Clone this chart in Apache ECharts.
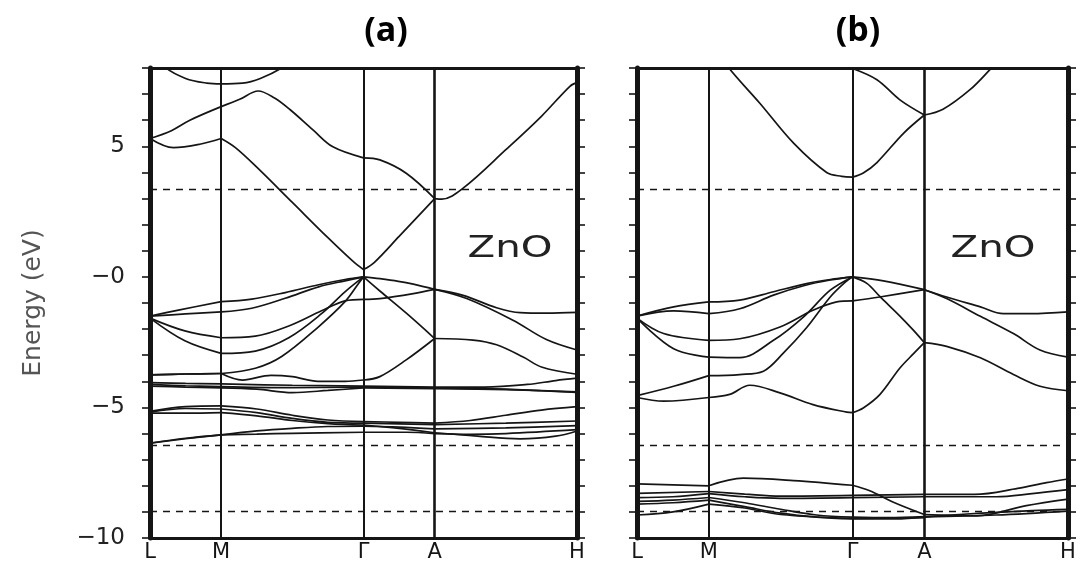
<!DOCTYPE html>
<html>
<head>
<meta charset="utf-8">
<title>ZnO band structure</title>
<script src="https://cdn.jsdelivr.net/npm/echarts@6/dist/echarts.min.js"></script>
<style>
  html, body { margin: 0; padding: 0; background: #fff; }
  #chart { width: 1086px; height: 564px; }
</style>
</head>
<body>
<div id="chart"></div>
<script>
// High-symmetry points along the k-path (x positions and their labels)
const kPoints = [0, 1, 3, 4, 6];
const kLabels = ['L', 'M', 'Γ', 'A', 'H'];

// Energy axis labels (eV)
const energyLabelValues = [-10, -5, 0, 5];
const energyLabelText = ['−10', '−5', '−0', '5'];

// Dashed reference levels (eV)
const dashedLevels = [3.37, -6.46, -8.98];

// ---- Panel (a): bands as [k, E] ----
const aC1 = [[0,5.3],[0.33,4.95],[0.7,5.08],[1,5.3],[1.2,4.95],[1.5,4.2],[2,2.85],[2.5,1.5],[2.85,0.6],[3,0.28],[3.15,0.55],[3.5,1.55],[4,3.0],[4.1,2.98],[4.4,3.4],[5,4.87],[5.5,6.15],[5.9,7.3],[6,7.45]];
const aC2 = [[0,5.3],[0.3,5.6],[0.56,6.0],[1,6.52],[1.26,6.8],[1.52,7.12],[1.75,6.85],[1.97,6.4],[2.29,5.63],[2.57,4.98],[3,4.56],[3.23,4.48],[3.6,3.97],[4,3.0]];
const aC3 = [[0,8.7],[0.2,8.05],[0.5,7.6],[0.8,7.42],[1,7.39],[1.3,7.42],[1.55,7.6],[1.87,8.03],[2.1,8.5]];
const aV1 = [[0,-1.5],[0.4,-1.27],[1,-0.95],[1.43,-0.85],[1.9,-0.6],[2.37,-0.3],[2.74,-0.1],[3,0],[3.23,-0.07],[3.49,-0.17],[3.7,-0.28],[4,-0.48],[4.4,-0.71],[4.87,-1.18],[5.2,-1.37],[5.57,-1.39],[6,-1.36]];
const aV2 = [[0,-1.5],[0.5,-1.42],[1,-1.34],[1.43,-1.2],[1.9,-0.82],[2.37,-0.38],[2.74,-0.15],[3,0],[3.23,-0.54],[3.61,-1.41],[4,-2.36],[4.54,-2.42],[4.87,-2.6],[5.25,-3.08],[5.5,-3.45],[6,-3.73]];
const aV3 = [[0,-1.58],[0.49,-2.07],[1,-2.33],[1.48,-2.27],[1.95,-1.88],[2.41,-1.3],[2.74,-0.92],[3,-0.86],[3.23,-0.83],[3.7,-0.64],[4,-0.48],[4.45,-0.83],[5.1,-1.66],[5.57,-2.4],[6,-2.8]];
const aV4 = [[0,-1.58],[0.49,-2.45],[1,-2.93],[1.48,-2.84],[1.95,-2.33],[2.41,-1.41],[2.74,-0.57],[3,0]];
const aV5 = [[0,-3.75],[0.5,-3.72],[1,-3.7],[1.48,-3.5],[1.85,-3.05],[2.36,-1.93],[2.74,-0.95],[2.93,-0.25],[3,0]];
const aV6 = [[0,-3.75],[0.5,-3.72],[1,-3.7],[1.3,-3.95],[1.7,-3.77],[2.0,-3.82],[2.36,-4.0],[2.74,-4.0],[3,-3.95],[3.23,-3.82],[3.6,-3.18],[4,-2.36]];
const aD1 = [[0,-4.05],[0.5,-4.08],[1,-4.1],[2,-4.15],[3,-4.18],[4,-4.22],[4.7,-4.22],[5.3,-4.12],[5.7,-3.97],[6,-3.88]];
const aD2 = [[0,-4.12],[0.5,-4.17],[1,-4.2],[2,-4.24],[3,-4.22],[4,-4.25],[5,-4.3],[5.5,-4.36],[6,-4.42]];
const aD3 = [[0,-4.18],[0.5,-4.22],[1,-4.25],[1.5,-4.3],[2,-4.43],[2.5,-4.35],[3,-4.25],[4,-4.28],[5,-4.32],[6,-4.4]];
const aD4 = [[0,-5.15],[0.5,-4.97],[1,-4.94],[1.5,-5.06],[2,-5.3],[2.5,-5.48],[3,-5.54],[3.5,-5.57],[4,-5.6],[4.5,-5.5],[5,-5.3],[5.5,-5.1],[6,-4.97]];
const aD5 = [[0,-5.18],[0.5,-5.04],[1,-5.06],[1.5,-5.2],[2,-5.42],[2.5,-5.57],[3,-5.6],[4,-5.66],[5,-5.6],[6,-5.52]];
const aD6 = [[0,-5.22],[0.5,-5.22],[1,-5.2],[1.5,-5.32],[2,-5.5],[2.5,-5.62],[3,-5.68],[3.5,-5.8],[4,-5.97],[4.6,-6.1],[5.2,-6.2],[5.7,-6.1],[6,-5.9]];
const aD7 = [[0,-6.37],[0.5,-6.18],[1,-6.05],[1.5,-5.9],[2,-5.8],[2.5,-5.73],[3,-5.72],[3.5,-5.75],[4,-5.82],[5,-5.78],[6,-5.7]];
const aD8 = [[0,-6.37],[0.5,-6.2],[1,-6.05],[1.5,-6.02],[2,-5.99],[3,-5.95],[3.6,-5.95],[4,-6.0],[4.5,-6.03],[5,-6.0],[6,-5.85]];

// ---- Panel (b): bands as [k, E] ----
const bC1 = [[1,9.1],[1.27,8.03],[1.71,6.65],[2.18,5.12],[2.64,4.0],[2.85,3.85],[3,3.82],[3.15,3.98],[3.34,4.38],[3.71,5.5],[4,6.2],[4.26,6.42],[4.64,7.18],[4.91,7.93],[5.1,8.5]];
const bC2 = [[2.6,8.45],[3,7.98],[3.34,7.55],[3.66,6.78],[4,6.2]];
const bV1 = [[0,-1.5],[0.51,-1.15],[1,-0.96],[1.43,-0.89],[1.9,-0.57],[2.36,-0.26],[2.69,-0.1],[3,0],[3.43,-0.15],[4,-0.49],[4.31,-0.77],[4.78,-1.15],[5.1,-1.41],[5.48,-1.41],[6,-1.34]];
const bV2 = [[0,-1.5],[0.51,-1.3],[1,-1.41],[1.43,-1.22],[1.9,-0.7],[2.32,-0.34],[2.69,-0.12],[3,0],[3.2,-0.25],[3.38,-0.75],[3.66,-1.5],[3.85,-2.05],[4,-2.52],[4.31,-2.66],[4.78,-3.1],[5.24,-3.74],[5.61,-4.19],[6,-4.36]];
const bV3 = [[0,-1.58],[0.37,-2.17],[1,-2.43],[1.43,-2.37],[1.99,-1.92],[2.45,-1.28],[2.78,-0.96],[3,-0.92],[3.38,-0.77],[4,-0.49],[4.31,-0.83],[4.78,-1.51],[5.24,-2.17],[5.61,-2.8],[6,-3.07]];
const bV4 = [[0,-1.58],[0.51,-2.75],[1,-3.07],[1.43,-3.09],[1.9,-2.43],[2.32,-1.53],[2.69,-0.51],[3,0]];
const bV5 = [[0,-4.55],[0.51,-4.19],[1,-3.78],[1.43,-3.74],[1.76,-3.61],[2.04,-2.91],[2.36,-1.95],[2.69,-0.77],[2.9,-0.2],[3,0]];
const bV6 = [[0,-4.62],[0.37,-4.76],[1,-4.62],[1.29,-4.5],[1.57,-4.15],[1.99,-4.44],[2.45,-4.89],[2.92,-5.18],[3,-5.2],[3.15,-5.02],[3.38,-4.51],[3.66,-3.49],[3.85,-2.94],[4,-2.52]];
const bD1 = [[0,-7.93],[1,-8.0],[1.48,-7.71],[2.18,-7.8],[3,-7.98],[3.24,-8.19],[3.57,-8.63],[4,-9.1],[4.73,-9.15],[5.42,-8.76],[6,-8.51]];
const bD2 = [[0,-8.29],[1,-8.22],[1.5,-8.32],[2,-8.4],[3,-8.37],[4,-8.33],[4.7,-8.33],[5.3,-8.1],[5.7,-7.88],[6,-7.74]];
const bD3 = [[0,-8.45],[0.5,-8.42],[1,-8.3],[1.5,-8.42],[2,-8.48],[3,-8.45],[4,-8.42],[5,-8.42],[5.5,-8.3],[6,-8.15]];
const bD4 = [[0,-8.6],[0.5,-8.55],[1,-8.45],[1.5,-8.65],[2,-8.9],[2.5,-9.12],[3,-9.2],[3.5,-9.22],[4,-9.18],[4.8,-9.05],[5.5,-8.95],[6,-8.9]];
const bD5 = [[0,-8.7],[0.5,-8.65],[1,-8.55],[1.5,-8.8],[2,-9.05],[2.5,-9.2],[3,-9.27],[3.6,-9.27],[4,-9.2],[5,-9.12],[6,-8.97]];
const bD6 = [[0,-9.12],[0.5,-9.0],[1,-8.7],[1.5,-8.85],[2,-9.1],[3,-9.25],[4,-9.22]];

const panelABands = [aC1, aC2, aC3, aV1, aV2, aV3, aV4, aV5, aV6, aD1, aD2, aD3, aD4, aD5, aD6, aD7, aD8];
const panelBBands = [bC1, bC2, bV1, bV2, bV3, bV4, bV5, bV6, bD1, bD2, bD3, bD4, bD5, bD6];

const INK = '#151515';
const FONT = '"DejaVu Sans", sans-serif';

// Break a band at the interior high-symmetry points so kinks stay sharp there
function splitAtKPoints(points) {
  const inner = kPoints.slice(1, -1);
  const segs = [];
  let cur = [points[0]];
  for (let i = 1; i < points.length; i++) {
    cur.push(points[i]);
    if (inner.includes(points[i][0]) && i < points.length - 1) {
      segs.push(cur);
      cur = [points[i]];
    }
  }
  if (cur.length > 1) segs.push(cur);
  return segs;
}

function bandSeries(bands, axisIdx) {
  const out = [];
  bands.forEach(band => {
    splitAtKPoints(band).forEach(seg => {
      out.push({
        type: 'line', xAxisIndex: axisIdx, yAxisIndex: axisIdx,
        data: seg, smooth: 0.35, symbol: 'none', clip: true,
        silent: true, animation: false,
        lineStyle: { color: INK, width: 1.7 }
      });
    });
  });
  return out;
}

// Vertical lines at M, Γ, A and the dashed horizontal levels
function guideSeries(axisIdx) {
  return {
    type: 'line', xAxisIndex: axisIdx, yAxisIndex: axisIdx, data: [],
    silent: true, animation: false,
    markLine: {
      symbol: ['none', 'none'], silent: true, animation: false,
      label: { show: false },
      data: [
        { xAxis: kPoints[1], lineStyle: { color: INK, width: 2, type: 'solid' } },
        { xAxis: kPoints[2], lineStyle: { color: INK, width: 2, type: 'solid' } },
        { xAxis: kPoints[3], lineStyle: { color: INK, width: 2.6, type: 'solid' } }
      ].concat(dashedLevels.map(v => ({
        yAxis: v, lineStyle: { color: INK, width: 1.4, type: [7, 6] }
      })))
    }
  };
}

function kAxis(gridIndex) {
  return {
    type: 'value', gridIndex, min: 0, max: 6, position: 'bottom',
    axisLine: { show: true, onZero: false, lineStyle: { color: INK, width: 3 } },
    axisTick: { show: false },
    splitLine: { show: false },
    axisLabel: {
      customValues: kPoints,
      formatter: v => kLabels[kPoints.indexOf(v)] || '',
      fontSize: 21, color: INK, fontFamily: FONT, margin: 4
    }
  };
}
function topAxis(gridIndex) {
  return {
    type: 'value', gridIndex, min: 0, max: 6, position: 'top',
    axisLine: { show: true, onZero: false, lineStyle: { color: INK, width: 3 } },
    axisTick: { show: false }, axisLabel: { show: false }, splitLine: { show: false }
  };
}
function energyAxis(gridIndex, position, withLabels) {
  const ax = {
    type: 'value', gridIndex, position, min: -10, max: 8, interval: 1,
    axisLine: { show: true, onZero: false, lineStyle: { color: INK, width: 5 } },
    axisTick: { show: true, inside: false, length: 8, interval: 0, lineStyle: { color: INK, width: 1.6 } },
    splitLine: { show: false },
    axisLabel: { show: false }
  };
  if (withLabels) {
    ax.axisLabel = {
      show: true, interval: 0, margin: 25,
      fontSize: 23, color: '#222', fontFamily: FONT,
      formatter: v => {
        const i = energyLabelValues.indexOf(Math.round(v * 1000) / 1000);
        return i >= 0 ? energyLabelText[i] : '';
      }
    };
    ax.name = 'Energy (eV)';
    ax.nameLocation = 'middle';
    ax.nameRotate = 90;
    ax.nameGap = 104;
    ax.nameTextStyle = { fontSize: 25, color: '#555', fontFamily: FONT };
  }
  return ax;
}

const option = {
  backgroundColor: '#fff',
  animation: false,
  grid: [
    { left: 150, top: 68, width: 427, height: 470 },
    { left: 637, top: 68, width: 431, height: 470 }
  ],
  xAxis: [kAxis(0), topAxis(0), kAxis(1), topAxis(1)],
  yAxis: [energyAxis(0, 'left', true), energyAxis(0, 'right', false),
          energyAxis(1, 'left', false), energyAxis(1, 'right', false)],
  series: [].concat(
    bandSeries(panelABands, 0),
    [guideSeries(0)],
    bandSeries(panelBBands, 2),
    [guideSeries(2)]
  ),
  graphic: [
    { type: 'text', x: 386, y: 31, style: { text: '(a)', x: 0, y: 0, align: 'center', verticalAlign: 'middle', textAlign: 'center', textVerticalAlign: 'middle', font: 'bold 34px "Open Sans", sans-serif', fill: '#000' } },
    { type: 'text', x: 858, y: 31, style: { text: '(b)', x: 0, y: 0, align: 'center', verticalAlign: 'middle', textAlign: 'center', textVerticalAlign: 'middle', font: 'bold 34px "Open Sans", sans-serif', fill: '#000' } },
    { type: 'text', x: 510, y: 249, scaleX: 1.3, style: { text: 'ZnO', x: 0, y: 0, align: 'center', verticalAlign: 'middle', textAlign: 'center', textVerticalAlign: 'middle', font: '31px "DejaVu Sans", sans-serif', fill: '#222' } },
    { type: 'text', x: 993, y: 249, scaleX: 1.3, style: { text: 'ZnO', x: 0, y: 0, align: 'center', verticalAlign: 'middle', textAlign: 'center', textVerticalAlign: 'middle', font: '31px "DejaVu Sans", sans-serif', fill: '#222' } }
  ]
};

const chart = echarts.init(document.getElementById('chart'), null, { renderer: 'canvas' });
chart.setOption(option);
</script>
</body>
</html>
